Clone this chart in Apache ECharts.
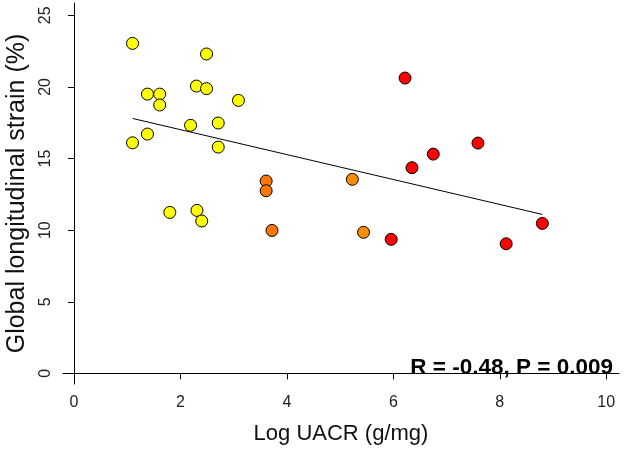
<!DOCTYPE html>
<html>
<head>
<meta charset="utf-8">
<script src="https://cdn.jsdelivr.net/npm/echarts@6/dist/echarts.min.js"></script>
<style>
  html, body { margin: 0; padding: 0; background: #fff; }
  #chart { width: 624px; height: 452px; }
</style>
</head>
<body>
<div id="chart"></div>
<script>
// points, grouped by fill colour
const yellowX = [1.10, 2.49, 2.30, 2.49, 1.38, 1.61, 1.61, 3.09, 2.19, 2.71, 1.38, 1.10, 2.71, 1.80, 2.31, 2.40]
const yellowY = [23.04, 22.3, 20.06, 19.88, 19.5, 19.5, 18.74, 19.06, 17.32, 17.48, 16.71, 16.1, 15.8, 11.24, 11.38, 10.64]
const darkOrangeX = [3.61, 3.61, 3.72]
const darkOrangeY = [13.43, 12.75, 9.98]
const orangeX = [5.23, 5.44]
const orangeY = [13.55, 9.85]
const redX = [6.22, 7.59, 6.75, 6.35, 8.80, 5.96, 8.12]
const redY = [20.62, 16.08, 15.31, 14.36, 10.47, 9.36, 9.05]

// regression line ends
const fitX = [1.1, 8.8]
const fitY = [17.8, 11.1]

const xTicks = [0, 2, 4, 6, 8, 10]
const yTicks = [0, 5, 10, 15, 20, 25]

const font = "'Liberation Sans', Arial, sans-serif"

const pairs = (xs, ys) => xs.map((x, i) => [x, ys[i]])

const pointSeries = (name, xs, ys, color) => ({
    name: name,
    type: 'scatter',
    data: pairs(xs, ys),
    symbolSize: 12,
    itemStyle: { color: color, borderColor: '#000', borderWidth: 1, opacity: 1 },
    z: 2
})

const chart = echarts.init(document.getElementById('chart'))
chart.setOption({
    animation: false,
    grid: { left: 63, right: 5, top: 3, bottom: 68, outerBoundsMode: 'none', containLabel: false },
    xAxis: {
        type: 'value',
        min: -0.207,
        max: 10.24,
        name: 'Log UACR (g/mg)',
        nameLocation: 'middle',
        nameGap: 39,
        nameTextStyle: { fontFamily: font, fontSize: 22, color: '#111' },
        splitLine: { show: false },
        axisLine: { lineStyle: { color: '#000', width: 1 } },
        axisTick: { customValues: xTicks, length: 6, lineStyle: { color: '#000' } },
        axisLabel: { customValues: xTicks, margin: 11, fontFamily: font, fontSize: 16, color: '#222' }
    },
    yAxis: {
        type: 'value',
        min: -0.74,
        max: 25.86,
        name: 'Global longitudinal strain (%)',
        nameLocation: 'middle',
        nameGap: 30,
        nameTextStyle: { fontFamily: font, fontSize: 25, color: '#111' },
        splitLine: { show: false },
        axisLine: { lineStyle: { color: '#000', width: 1 } },
        axisTick: { customValues: yTicks, length: 6, lineStyle: { color: '#000' } },
        axisLabel: { customValues: yTicks, rotate: 90, margin: 9, fontFamily: font, fontSize: 16, color: '#222' }
    },
    series: [
        pointSeries('low', yellowX, yellowY, '#FFFF00'),
        pointSeries('mid', darkOrangeX, darkOrangeY, '#FF7700'),
        pointSeries('mid2', orangeX, orangeY, '#FF8C00'),
        pointSeries('high', redX, redY, '#FF0000'),
        {
            name: 'fit',
            type: 'line',
            data: pairs(fitX, fitY),
            showSymbol: false,
            symbol: 'none',
            lineStyle: { color: '#000', width: 1 },
            z: 3
        }
    ],
    graphic: [{
        type: 'text',
        right: 11,
        top: 356,
        style: {
            text: 'R = -0.48, P = 0.009',
            font: 'bold 22.5px ' + font,
            fill: '#000'
        }
    }]
})
</script>
</body>
</html>
